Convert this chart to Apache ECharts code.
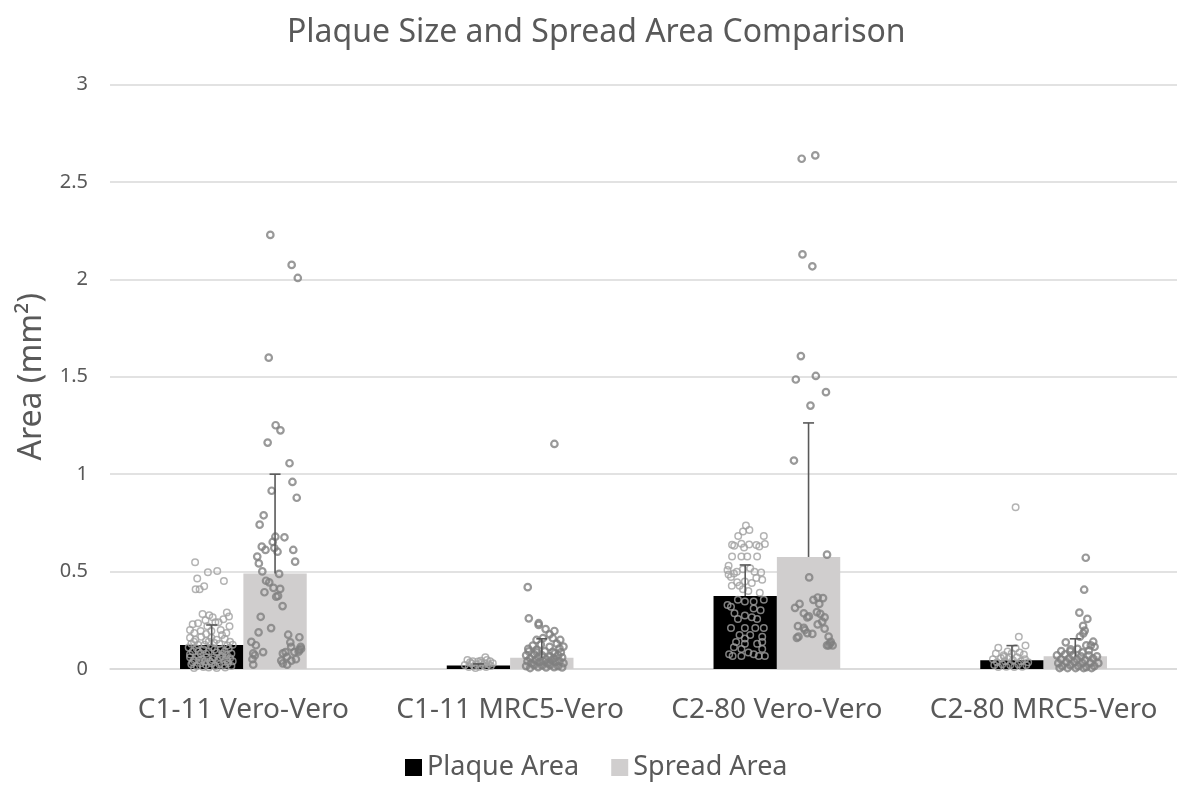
<!DOCTYPE html>
<html>
<head>
<meta charset="utf-8">
<script src="https://cdn.jsdelivr.net/npm/echarts@6/dist/echarts.min.js"></script>
<style>
html,body{margin:0;padding:0;background:#fff;}
#chart{width:1177px;height:788px;}
</style>
</head>
<body>
<div id="chart"></div>
<script>
const categories = ['C1-11 Vero-Vero', 'C1-11 MRC5-Vero', 'C2-80 Vero-Vero', 'C2-80 MRC5-Vero'];
const yTicks = [0, 0.5, 1, 1.5, 2, 2.5, 3];
const plaqueMean = [0.123, 0.018, 0.375, 0.045];
const plaqueErr = [0.103, 0.008, 0.159, 0.075];
const spreadMean = [0.49, 0.058, 0.575, 0.065];
const spreadErr = [0.51, 0.097, 0.688, 0.09];

// individual points: [offset from category centre (in category widths), area]
const c1Plaque = [[-0.181,0.548],[-0.133,0.496],[-0.098,0.503],[-0.173,0.464],[-0.073,0.452],[-0.179,0.409],[-0.164,0.409],[-0.147,0.425],
[-0.153,0.282],[-0.128,0.276],[-0.142,0.25],[-0.093,0.24],[-0.062,0.29],[-0.054,0.27],[-0.115,0.265],[-0.075,0.255],
[-0.19,0.23],[-0.17,0.235],[-0.135,0.22],[-0.105,0.24],[-0.085,0.20],[-0.052,0.22],[-0.184,0.185],[-0.16,0.195],[-0.08,0.175],[-0.064,0.185],[-0.12,0.195],[-0.14,0.18],[-0.2,0.2],
[-0.2,0.16],[-0.18,0.15],[-0.158,0.165],[-0.14,0.145],[-0.12,0.16],[-0.1,0.15],[-0.09,0.13],[-0.07,0.155],[-0.05,0.14],[-0.195,0.13],[-0.145,0.125],[-0.11,0.135],[-0.04,0.125],
[-0.17,0.125],[-0.13,0.14],[-0.06,0.12],[-0.185,0.14],
[-0.205,0.11],[-0.19,0.09],[-0.175,0.105],[-0.16,0.08],[-0.15,0.1],[-0.13,0.09],[-0.118,0.11],[-0.1,0.085],[-0.085,0.1],[-0.07,0.09],[-0.055,0.105],[-0.045,0.08],
[-0.2,0.075],[-0.168,0.09],[-0.14,0.078],[-0.108,0.1],[-0.078,0.078],[-0.062,0.072],
[-0.2,0.06],[-0.185,0.045],[-0.17,0.065],[-0.155,0.05],[-0.138,0.06],[-0.125,0.04],[-0.11,0.06],[-0.095,0.045],[-0.08,0.065],[-0.065,0.05],[-0.05,0.055],[-0.04,0.04],
[-0.19,0.035],[-0.165,0.045],[-0.145,0.038],[-0.115,0.048],[-0.088,0.06],[-0.058,0.04],
[-0.195,0.025],[-0.175,0.015],[-0.16,0.03],[-0.14,0.02],[-0.12,0.03],[-0.105,0.015],[-0.09,0.025],[-0.072,0.02],[-0.058,0.03],[-0.045,0.015],
[-0.185,0.005],[-0.15,0.01],[-0.13,0.008],[-0.1,0.005],[-0.068,0.008]];
const c1Spread = [[0.101,2.228],[0.181,2.074],[0.204,2.007],[0.095,1.598],[0.121,1.251],[0.139,1.225],[0.091,1.162],[0.173,1.056],[0.184,0.96],[0.106,0.915],[0.2,0.879],
[0.076,0.789],[0.061,0.741],[0.12,0.679],[0.154,0.676],[0.11,0.652],[0.069,0.628],[0.083,0.611],[0.116,0.621],[0.128,0.602],[0.187,0.611],[0.052,0.577],[0.058,0.542],[0.194,0.551],
[0.071,0.501],[0.134,0.488],[0.085,0.453],[0.097,0.445],[0.113,0.416],[0.138,0.411],[0.079,0.394],[0.123,0.371],[0.13,0.375],[0.147,0.323],[0.065,0.268],[0.104,0.21],[0.057,0.188],
[0.168,0.176],[0.21,0.163],[0.03,0.139],[0.047,0.122],[0.176,0.137],[0.074,0.087],[0.037,0.08],[0.043,0.07],[0.034,0.05],[0.037,0.022],[0.148,0.08],[0.158,0.087],[0.163,0.063],
[0.191,0.087],[0.209,0.098],[0.215,0.114],[0.216,0.103],[0.142,0.043],[0.148,0.029],[0.164,0.022],[0.18,0.043],[0.197,0.05],[0.179,0.114],[0.207,0.089]];
const c2Plaque = [[-0.16,0.046],[-0.093,0.06],[-0.087,0.046],[-0.17,0.02],[-0.155,0.01],[-0.145,0.028],[-0.135,0.015],[-0.125,0.025],[-0.115,0.012],[-0.108,0.032],[-0.1,0.02],
[-0.09,0.01],[-0.08,0.025],[-0.072,0.015],[-0.065,0.03],[-0.15,0.035],[-0.12,0.038],[-0.13,0.005],[-0.095,0.03],[-0.11,0.042],[-0.14,0.04],[-0.075,0.04]];
const c2Spread = [[0.166,1.155],[0.066,0.42],[0.07,0.26],[0.107,0.235],[0.107,0.226],[0.133,0.205],[0.166,0.195],[0.148,0.178],[0.188,0.149],[0.099,0.149],[0.123,0.158],[0.16,0.158],
[0.068,0.103],[0.099,0.098],[0.148,0.114],[0.185,0.106],[0.167,0.08],
[0.06,0.07],[0.075,0.055],[0.09,0.075],[0.105,0.06],[0.12,0.07],[0.135,0.05],[0.15,0.065],[0.165,0.055],[0.18,0.07],[0.195,0.06],
[0.065,0.04],[0.08,0.03],[0.095,0.045],[0.11,0.035],[0.125,0.04],[0.14,0.03],[0.155,0.045],[0.17,0.035],[0.185,0.04],[0.2,0.03],
[0.06,0.015],[0.075,0.005],[0.09,0.02],[0.105,0.01],[0.12,0.018],[0.135,0.008],[0.15,0.02],[0.165,0.01],[0.18,0.015],[0.195,0.008],
[0.07,0.09],[0.1,0.085],[0.13,0.09],[0.16,0.088],[0.19,0.085],[0.085,0.12],[0.115,0.125],[0.175,0.13],[0.2,0.115]];
const c3Plaque = [[-0.116,0.737],[-0.103,0.714],[-0.127,0.706],[-0.145,0.683],[-0.049,0.683],[-0.045,0.642],[-0.168,0.638],[-0.16,0.632],[-0.133,0.643],[-0.123,0.623],[-0.104,0.639],
[-0.077,0.636],[-0.066,0.629],[-0.168,0.578],[-0.133,0.578],[-0.111,0.578],[-0.074,0.578],[-0.181,0.53],[-0.185,0.508],[-0.181,0.485],[-0.161,0.49],[-0.15,0.499],[-0.127,0.512],
[-0.1,0.517],[-0.084,0.499],[-0.059,0.495],[-0.055,0.458],[-0.077,0.467],[-0.172,0.472],[-0.149,0.445],[-0.094,0.441],[-0.12,0.449],[-0.14,0.427],[-0.169,0.427],[-0.127,0.409],
[-0.107,0.4],[-0.064,0.391],
[-0.185,0.328],[-0.172,0.319],[-0.146,0.355],[-0.12,0.346],[-0.087,0.346],[-0.049,0.355],[-0.061,0.301],[-0.087,0.31],[-0.159,0.286],[-0.12,0.274],[-0.094,0.265],[-0.074,0.256],
[-0.146,0.256],[-0.172,0.211],[-0.12,0.211],[-0.081,0.211],[-0.049,0.211],[-0.14,0.175],[-0.1,0.175],[-0.12,0.157],[-0.055,0.166],[-0.153,0.139],[-0.12,0.13],[-0.074,0.13],
[-0.055,0.139],[-0.161,0.112],[-0.133,0.103],[-0.055,0.103],[-0.179,0.076],[-0.166,0.067],[-0.133,0.067],[-0.107,0.085],[-0.087,0.076],[-0.068,0.067],[-0.045,0.067]];
const c3Spread = [[0.093,2.619],[0.144,2.636],[0.096,2.128],[0.133,2.067],[0.09,1.606],[0.071,1.486],[0.146,1.504],[0.184,1.421],[0.126,1.352],[0.064,1.07],[0.188,0.587],[0.121,0.47],
[0.068,0.314],[0.085,0.334],[0.101,0.286],[0.114,0.265],[0.079,0.22],[0.101,0.211],[0.081,0.166],[0.114,0.184],[0.133,0.18],[0.137,0.355],[0.153,0.367],[0.173,0.364],
[0.159,0.334],[0.15,0.292],[0.163,0.283],[0.179,0.265],[0.17,0.243],[0.153,0.229],[0.179,0.207],[0.194,0.166],[0.202,0.139],[0.194,0.121],[0.209,0.121],[0.188,0.121],
[0.075,0.16],[0.12,0.27],[0.105,0.2],[0.2,0.13]];
const c4Plaque = [[-0.105,0.83],[-0.093,0.166],[-0.17,0.109],[-0.068,0.12],[-0.074,0.075],[-0.105,0.106],[-0.179,0.08],[-0.148,0.063],
[-0.19,0.05],[-0.175,0.035],[-0.16,0.055],[-0.145,0.04],[-0.13,0.06],[-0.115,0.045],[-0.1,0.06],[-0.085,0.04],[-0.07,0.05],[-0.058,0.035],
[-0.185,0.02],[-0.17,0.01],[-0.155,0.025],[-0.14,0.012],[-0.125,0.02],[-0.11,0.01],[-0.095,0.025],[-0.08,0.012],[-0.065,0.02],[-0.15,0.07],[-0.12,0.08],[-0.09,0.085],[-0.135,0.09]];
const c4Spread = [[0.158,0.571],[0.152,0.407],[0.134,0.289],[0.164,0.257],[0.148,0.221],[0.154,0.197],[0.149,0.183],[0.136,0.166],[0.083,0.137],[0.186,0.14],[0.191,0.114],
[0.177,0.121],[0.16,0.121],[0.066,0.092],[0.101,0.101],[0.127,0.103],
[0.05,0.07],[0.065,0.05],[0.08,0.075],[0.095,0.055],[0.11,0.07],[0.125,0.05],[0.14,0.065],[0.155,0.045],[0.17,0.07],[0.185,0.055],[0.2,0.065],
[0.055,0.03],[0.07,0.015],[0.085,0.035],[0.1,0.02],[0.115,0.035],[0.13,0.015],[0.145,0.03],[0.16,0.01],[0.175,0.03],[0.19,0.015],[0.205,0.03],
[0.06,0.005],[0.09,0.005],[0.12,0.005],[0.15,0.005],[0.18,0.005],[0.1,0.09],[0.145,0.085],[0.17,0.095]];

const plaquePoints = [c1Plaque, c2Plaque, c3Plaque, c4Plaque];
const spreadPoints = [c1Spread, c2Spread, c3Spread, c4Spread];

function toScatter(groups) {
  const out = [];
  groups.forEach((g, ci) => g.forEach(p => out.push([ci + 0.5 + p[0], p[1]])));
  return out;
}

const FONT = 'Noto Sans';
const TXT = '#595959';
const GAP = 0.525;

function errorRender(sign, means, errs) {
  return function (params, api) {
    const i = api.value(0);
    const base = api.coord([i, means[i]]);
    const top = api.coord([i, means[i] + errs[i]]);
    const band = api.size([1, 0])[0];
    const bw = band * (1 - GAP) / 2;
    const x = base[0] + sign * bw / 2;
    const style = { stroke: '#595959', lineWidth: 1.6 };
    return {
      type: 'group',
      children: [
        { type: 'line', shape: { x1: x, y1: base[1], x2: x, y2: top[1] }, style },
        { type: 'line', shape: { x1: x - 5.5, y1: top[1], x2: x + 5.5, y2: top[1] }, style }
      ]
    };
  };
}

const chart = echarts.init(document.getElementById('chart'), null, { renderer: 'canvas' });
chart.setOption({
  animation: false,
  backgroundColor: '#ffffff',
  textStyle: { fontFamily: FONT },
  title: {
    text: 'Plaque Size and Spread Area Comparison',
    left: 282,
    top: 12,
    textStyle: { fontFamily: FONT, fontSize: 32, fontWeight: 'normal', color: TXT }
  },
  legend: {
    data: ['Plaque Area', 'Spread Area'],
    bottom: 2,
    left: 400,
    icon: 'rect',
    itemWidth: 17,
    itemHeight: 17,
    itemGap: 32,
    textStyle: { fontFamily: FONT, fontSize: 27, color: TXT }
  },
  grid: { left: 110, right: -13, top: 84.5, bottom: 119, containLabel: false },
  xAxis: [
    {
      type: 'category',
      data: categories,
      axisLine: { lineStyle: { color: '#d9d9d9', width: 1.5 } },
      axisTick: { show: false },
      axisLabel: { fontFamily: FONT, fontSize: 28, color: TXT, margin: 27, interval: 0 }
    },
    {
      type: 'value', min: 0, max: 4, show: false
    }
  ],
  yAxis: {
    type: 'value',
    min: yTicks[0],
    max: yTicks[yTicks.length - 1],
    interval: 0.5,
    name: 'Area (mm²)',
    nameLocation: 'middle',
    nameGap: 62,
    nameTextStyle: { fontFamily: FONT, fontSize: 32, color: TXT },
    axisLine: { show: false },
    axisTick: { show: false },
    axisLabel: { fontFamily: FONT, fontSize: 20, color: TXT, margin: 22 },
    splitLine: { lineStyle: { color: '#d9d9d9', width: 1.5 } }
  },
  series: [
    {
      name: 'Plaque Area', type: 'bar', data: plaqueMean, xAxisIndex: 0,
      barGap: '0%', barCategoryGap: (GAP * 100) + '%',
      itemStyle: { color: '#000000' }, z: 2
    },
    {
      name: 'Spread Area', type: 'bar', data: spreadMean, xAxisIndex: 0,
      barGap: '0%', barCategoryGap: (GAP * 100) + '%',
      itemStyle: { color: '#d0cece' }, z: 2
    },
    {
      name: 'Plaque points', type: 'scatter', xAxisIndex: 1, data: toScatter(plaquePoints),
      symbol: 'circle', symbolSize: 6.5,
      itemStyle: { color: 'rgba(0,0,0,0)', borderColor: '#a0a0a0', borderWidth: 1.5 }, z: 3
    },
    {
      name: 'Spread points', type: 'scatter', xAxisIndex: 1, data: toScatter(spreadPoints),
      symbol: 'circle', symbolSize: 6.5,
      itemStyle: { color: 'rgba(0,0,0,0)', borderColor: '#7f7f7f', borderWidth: 2.2 }, z: 3
    },
    {
      name: 'Plaque error', type: 'custom', xAxisIndex: 0,
      data: categories.map((c, i) => [i]),
      renderItem: errorRender(-1, plaqueMean, plaqueErr), z: 4
    },
    {
      name: 'Spread error', type: 'custom', xAxisIndex: 0,
      data: categories.map((c, i) => [i]),
      renderItem: errorRender(1, spreadMean, spreadErr), z: 4
    }
  ]
});
</script>
</body>
</html>
